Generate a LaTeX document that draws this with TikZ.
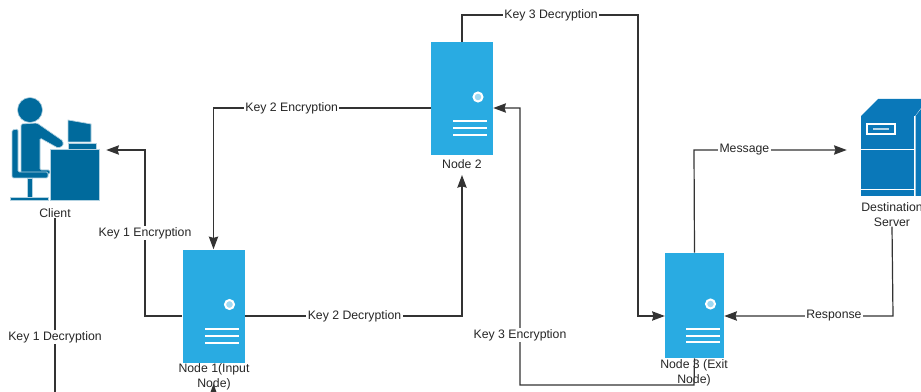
\documentclass[tikz,border=0pt]{standalone}
\usepackage{fontspec}
\setmainfont{Liberation Sans}
\usetikzlibrary{arrows.meta}
\definecolor{nodeblue}{HTML}{29ABE2}
\definecolor{clientblue}{HTML}{006A9C}
\definecolor{destblue}{HTML}{0A78B9}
\definecolor{wirecol}{HTML}{333333}
\tikzset{x=0.75pt,y=-0.75pt,
    servernode/.style 2 args={
        rectangle,
        fill=nodeblue,
        inner sep=0pt,
        minimum width=#1*46.5pt,
        minimum height=#2*84.75pt,
        path picture={
            \begin{scope}[shift={(path picture bounding box.center)},xscale=#1,yscale=#2]
                \fill[nodeblue!45,draw=white,line width=1.5pt] (16,-1.5) circle (4.5);
                \foreach \bary in {23,30,36.5}
                    \fill[white] (-9,\bary-1) rectangle (25,\bary+1);
            \end{scope}}},
    namelab/.style={
        text=black!85,
        font=\fontsize{9.2}{11.2}\selectfont,
        align=center,
        inner sep=0pt},
    keylab/.style={
        namelab,
        fill=white,
        inner sep=1pt},
    conn/.style={
        draw=wirecol,
        line width=0.9pt,
        -{Stealth[length=9.5pt,width=7pt,inset=1pt]}},
    iconbox/.style={
        rectangle,
        inner sep=0pt}}
\begin{document}
\begin{tikzpicture}
        \useasboundingbox (0,0) rectangle (921,392);
        \clip (0,0) rectangle (921,392);

        \node[servernode={1}{1}] (n1) at (213.5,306) {};
        \node[servernode={1}{1}] (n2) at (462,98.5) {};
        \node[servernode={0.95}{0.93}] (n3) at (694.5,305.5) {};
        \node[iconbox,minimum width=72pt,minimum height=76.5pt] (client) at (58,150) {};
        \node[iconbox,minimum width=63pt,minimum height=73.5pt] (dest) at (889,147) {};

        \node[namelab] (clientlab) at (55,213.5) {Client};
        \node[namelab] (n1lab) at (214,376.5) {Node 1(Input\\Node)};
        \node[namelab] (n2lab) at (462,164) {Node 2};
        \node[namelab] (n3lab) at (694,372.5) {Node 3 (Exit\\Node)};
        \node[namelab] (destlab) at (892,214.5) {Destination\\Server};

        % client icon
        \begin{scope}[draw=clientblue!30,line width=0.5pt,fill=clientblue]
            \filldraw (30,110) circle (12.5);
            \filldraw[rounded corners=1pt] (21,124) -- (37,123) -- (63,141) -- (63,146) -- (58,148) -- (40,138) -- (40,170) -- (50,170) -- (50,174) -- (21,174) -- cycle;
            \filldraw[rounded corners=1pt] (12,130) -- (18,129) -- (18,172) -- (48,172) -- (48,178) -- (12,178) -- cycle;
            \filldraw (27,178) rectangle (32,197);
            \filldraw (10,197) rectangle (48,200);
            \filldraw (68,120) -- (91,124) -- (91,142) -- (68,142) -- cycle;
            \filldraw (68,143) rectangle (96,149);
            \filldraw (50,149) rectangle (99,200);
        \end{scope}

        % destination server
        \fill[destblue] (861,116) -- (878,99) -- (930,99) -- (930,108) -- (921,108) -- (915,116) -- cycle;
        \fill[destblue] (861,116) rectangle (914,196);
        \fill[destblue] (915.5,116) -- (921,109) -- (921,196) -- (915.5,196) -- cycle;
        \draw[white,line width=0.6pt] (861,149) -- (914,149);
        \draw[white,line width=0.6pt] (861,189) -- (914,189);
        \draw[white,line width=0.8pt] (867,124) rectangle (895,134);
        \draw[white!70!destblue,line width=0.8pt] (873,129) -- (889,129);

        \draw[conn] (n1.west |- 0,316) -- (145,316) -- node[keylab] (key1enc) {Key 1 Encryption} (145,150) -- (client.east);
        \draw[conn] (n2.west |- 0,108) -- node[keylab,pos=0.64] (key2enc) {Key 2 Encryption} (n1.north |- 0,108) -- (n1.north);
        \draw[conn] (n1.east |- 0,316) -- node[keylab,pos=0.505] (key2dec) {Key 2 Decryption} (n2.south |- 0,316) -- (n2lab.south |- 0,175);
        \draw[conn] (n2.north) -- (462,15) -- node[keylab,pos=0.506] (key3dec) {Key 3 Decryption} (638,15) -- (638,316) -- (n3.west |- 0,316);
        \draw[conn] (n3.south) -- (694,385) -- (520,385) -- node[keylab,pos=0.18] (key3enc) {Key 3 Encryption} (520,108) -- (n2.east |- 0,108);
        \draw[conn] (n3.north) -- (694,150) -- node[keylab,pos=0.33] (msg) {Message} (dest.west |- 0,150);
        \draw[conn] (destlab.south) -- (893,316) -- node[keylab,pos=0.35] (resp) {Response} (n3.east |- 0,316);
        \draw[conn] (clientlab.south) -- node[keylab,pos=0.62] (key1dec) {Key 1 Decryption} (55,410) -- (213.5,410) -- (n1.south |- 0,384);
    \end{tikzpicture}
\end{document}
